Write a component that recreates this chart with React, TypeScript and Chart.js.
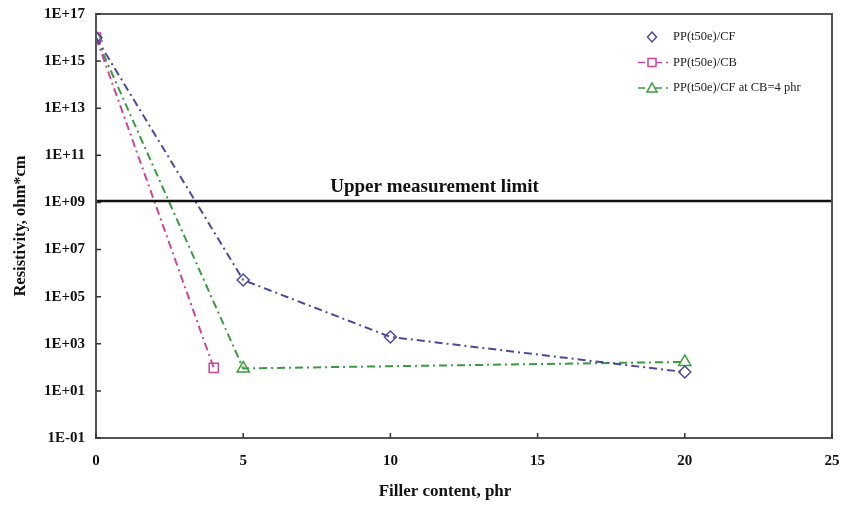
import React, { useEffect, useRef } from "react";
import { Chart, registerables } from "chart.js";

Chart.register(...registerables);

const cfX = [0, 5, 10, 20];
const cfY = [1e16, 5.1e5, 1.95e3, 63];
const cbX = [0, 4];
const cbY = [1e16, 94];
const cfcbX = [0, 5, 20];
const cfcbY = [1e16, 90, 170];
const limitX = [0, 25];
const limitY = 1.15e9;
const limitLabel = "Upper measurement limit";
const limitLabelX = 11.5;
const seriesNames = ["PP(t50e)/CF", "PP(t50e)/CB", "PP(t50e)/CF at CB=4 phr"];
const xTicks = [0, 5, 10, 15, 20, 25];
const yExponents = [-1, 1, 3, 5, 7, 9, 11, 13, 15, 17];
const xTitle = "Filler content, phr";
const yTitle = "Resistivity, ohm*cm";

const BLUE = "#4a4a9c";
const PINK = "#c9479b";
const GREEN = "#3a9a3e";
const SERIF = "'Liberation Serif', 'Times New Roman', serif";

function fmtExp(v: number) {
  const e = Math.round(Math.log10(v));
  const s = e < 0 ? "-" : "+";
  const a = Math.abs(e);
  return "1E" + s + (a < 10 ? "0" + a : "" + a);
}

const framePlugin = {
  id: "frameAndExtras",
  afterDatasetsDraw(chart: any) {
    const { ctx, chartArea: ca, scales } = chart;
    const xs = scales.x;
    const ys = scales.y;
    ctx.save();
    // frame
    ctx.strokeStyle = "#555";
    ctx.lineWidth = 2;
    ctx.setLineDash([]);
    ctx.strokeRect(ca.left, ca.top, ca.right - ca.left, ca.bottom - ca.top);
    // inward ticks
    ctx.lineWidth = 1.5;
    ctx.strokeStyle = "#333";
    ctx.beginPath();
    xTicks.forEach((t) => {
      const px = xs.getPixelForValue(t);
      ctx.moveTo(px, ca.bottom);
      ctx.lineTo(px, ca.bottom - 5);
    });
    yExponents.forEach((e) => {
      const py = ys.getPixelForValue(Math.pow(10, e));
      ctx.moveTo(ca.left, py);
      ctx.lineTo(ca.left + 5, py);
    });
    ctx.stroke();
    // limit label
    ctx.fillStyle = "#111";
    ctx.font = "bold 19px " + SERIF;
    ctx.textAlign = "center";
    ctx.textBaseline = "bottom";
    ctx.fillText(limitLabel, xs.getPixelForValue(limitLabelX), ys.getPixelForValue(limitY) - 4);
    // x axis title
    ctx.font = "bold 17px " + SERIF;
    ctx.textBaseline = "middle";
    ctx.fillText(xTitle, 445, 492);
    // legend
    const items = [
      { color: BLUE, style: "rectRot", line: false },
      { color: PINK, style: "rect", line: true },
      { color: GREEN, style: "triangle", line: true },
    ];
    items.forEach((it, i) => {
      const y = 37 + i * 25.5;
      const mx = 652;
      if (it.line) {
        ctx.strokeStyle = it.color;
        ctx.lineWidth = 1.5;
        ctx.setLineDash([7, 4, 2, 4]);
        ctx.beginPath();
        ctx.moveTo(638, y);
        ctx.lineTo(668, y);
        ctx.stroke();
        ctx.setLineDash([]);
      }
      ctx.fillStyle = "#fff";
      ctx.strokeStyle = it.color;
      ctx.lineWidth = 1.5;
      ctx.beginPath();
      if (it.style === "rectRot") {
        ctx.moveTo(mx, y - 5);
        ctx.lineTo(mx + 4.5, y);
        ctx.lineTo(mx, y + 5);
        ctx.lineTo(mx - 4.5, y);
        ctx.closePath();
      } else if (it.style === "rect") {
        ctx.rect(mx - 4, y - 4, 8, 8);
      } else {
        ctx.moveTo(mx, y - 5);
        ctx.lineTo(mx + 5, y + 4);
        ctx.lineTo(mx - 5, y + 4);
        ctx.closePath();
      }
      ctx.fill();
      ctx.stroke();
      ctx.fillStyle = "#222";
      ctx.font = "12.5px " + SERIF;
      ctx.textAlign = "left";
      ctx.textBaseline = "middle";
      ctx.fillText(seriesNames[i], 673, y);
    });
    ctx.restore();
  },
};

export default function App() {
  const ref = useRef<HTMLCanvasElement | null>(null);
  useEffect(() => {
    document.body.style.margin = "0";
    const canvas = ref.current;
    if (!canvas) return;
    const mk = (xsArr: number[], ysArr: number[]) => xsArr.map((x, i) => ({ x, y: ysArr[i] }));
    const chart = new Chart(canvas, {
      type: "line",
      data: {
        datasets: [
          {
            label: "limit",
            data: limitX.map((x) => ({ x, y: limitY })),
            borderColor: "#111",
            borderWidth: 2.5,
            pointRadius: 0,
            tension: 0,
          },
          {
            label: seriesNames[0],
            data: mk(cfX, cfY),
            borderColor: BLUE,
            backgroundColor: "rgba(0,0,0,0)",
            borderWidth: 2,
            borderDash: [8, 4, 2, 4],
            pointStyle: "rectRot",
            pointRadius: 6,
            pointBorderWidth: 1.5,
            pointBorderColor: BLUE,
            tension: 0,
          },
          {
            label: seriesNames[1],
            data: mk(cbX, cbY),
            borderColor: PINK,
            backgroundColor: "rgba(0,0,0,0)",
            borderWidth: 2,
            borderDash: [8, 4, 2, 4],
            pointStyle: "rect",
            pointRadius: 6.5,
            pointBorderWidth: 1.5,
            pointBorderColor: PINK,
            tension: 0,
          },
          {
            label: seriesNames[2],
            data: mk(cfcbX, cfcbY),
            borderColor: GREEN,
            backgroundColor: "rgba(0,0,0,0)",
            borderWidth: 2,
            borderDash: [8, 4, 2, 4],
            pointStyle: "triangle",
            pointRadius: 7,
            pointBorderWidth: 1.5,
            pointBorderColor: GREEN,
            tension: 0,
          },
        ],
      },
      options: {
        animation: false,
        responsive: false,
        maintainAspectRatio: false,
        layout: { padding: { left: 0, top: 14, right: 18, bottom: 0 } },
        plugins: { legend: { display: false }, tooltip: { enabled: false } },
        scales: {
          x: {
            type: "linear",
            min: 0,
            max: 25,
            afterBuildTicks: (s: any) => {
              s.ticks = xTicks.map((v) => ({ value: v }));
            },
            afterFit: (s: any) => {
              s.height = 68;
              s.paddingLeft = 0;
              s.paddingRight = 0;
            },
            ticks: {
              color: "#111",
              padding: 14,
              font: { family: SERIF, size: 15, weight: "bold" },
              maxRotation: 0,
            },
            grid: { display: false, drawTicks: false },
            border: { display: false },
            title: { display: false },
          },
          y: {
            type: "logarithmic",
            min: 0.1,
            max: 1e17,
            afterBuildTicks: (s: any) => {
              s.ticks = yExponents.map((e) => ({ value: Math.pow(10, e) }));
            },
            afterFit: (s: any) => {
              s.width = 96;
              s.paddingTop = 0;
              s.paddingBottom = 0;
            },
            ticks: {
              color: "#111",
              padding: 11,
              font: { family: SERIF, size: 15, weight: "bold" },
              callback: (v: any) => fmtExp(Number(v)),
              autoSkip: false,
            },
            grid: { display: false, drawTicks: false },
            border: { display: false },
            title: {
              display: true,
              text: yTitle,
              color: "#111",
              font: { family: SERIF, size: 16.5, weight: "bold" },
              padding: { top: 11, bottom: 4 },
            },
          },
        },
      },
      plugins: [framePlugin],
    } as any);
    return () => chart.destroy();
  }, []);
  return (
    <div style={{ width: 850, height: 506, background: "#fff" }}>
      <canvas ref={ref} width={850} height={506} style={{ display: "block" }} />
    </div>
  );
}
